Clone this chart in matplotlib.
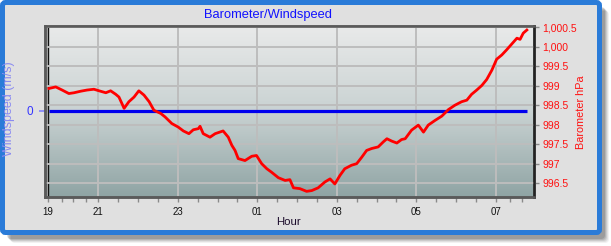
import numpy as np
import matplotlib
matplotlib.use("Agg")
import matplotlib.pyplot as plt
from matplotlib.colors import LinearSegmentedColormap
from matplotlib.patches import FancyBboxPatch
from matplotlib.ticker import FixedLocator, FuncFormatter

# ---------------- data ----------------
# time in hours (values >24 are after midnight)
hours = [19.76, 19.93, 20.09, 20.26, 20.39, 20.56, 20.72, 20.89, 21.02, 21.19,
         21.31, 21.44, 21.52, 21.65, 21.77, 21.90, 22.02, 22.15, 22.28, 22.40,
         22.57, 22.68, 22.85, 23.01, 23.14, 23.28, 23.39, 23.52, 23.56, 23.64,
         23.81, 23.94, 24.14, 24.27, 24.36, 24.44, 24.52, 24.69, 24.86, 24.98,
         25.11, 25.24, 25.36, 25.53, 25.70, 25.82, 25.91, 26.07, 26.24, 26.37,
         26.53, 26.70, 26.83, 26.95, 27.08, 27.20, 27.37, 27.50, 27.63, 27.75,
         27.88, 28.04, 28.17, 28.26, 28.38, 28.51, 28.63, 28.72, 28.88, 29.05,
         29.18, 29.30, 29.47, 29.64, 29.81, 29.97, 30.14, 30.27, 30.39, 30.52,
         30.65, 30.77, 30.90, 31.02, 31.15, 31.27, 31.40, 31.53, 31.61, 31.69,
         31.78]
pressure = [998.93, 998.97, 998.89, 998.80, 998.82, 998.86, 998.89, 998.91, 998.87, 998.82,
            998.87, 998.78, 998.71, 998.42, 998.59, 998.71, 998.87, 998.76, 998.59, 998.37,
            998.29, 998.20, 998.03, 997.94, 997.84, 997.77, 997.87, 997.90, 997.96, 997.77,
            997.68, 997.77, 997.84, 997.68, 997.47, 997.34, 997.13, 997.08, 997.19, 997.21,
            997.00, 996.87, 996.78, 996.64, 996.57, 996.59, 996.38, 996.36, 996.29, 996.31,
            996.38, 996.53, 996.61, 996.48, 996.70, 996.87, 996.96, 997.00, 997.17, 997.34,
            997.39, 997.43, 997.56, 997.64, 997.58, 997.53, 997.62, 997.64, 997.86, 997.99,
            997.81, 997.99, 998.11, 998.22, 998.39, 998.50, 998.59, 998.63, 998.78, 998.89,
            999.01, 999.16, 999.40, 999.68, 999.79, 999.92, 1000.07, 1000.22, 1000.19, 1000.35,
            1000.43]
wind_hours = [19.76, 31.78]
windspeed = [0, 0]

x_tick_pos = [19.74, 21, 23, 25, 27, 29, 31]
x_tick_labels = ["19", "21", "23", "01", "03", "05", "07"]
baro_ticks = [996.5, 997, 997.5, 998, 998.5, 999, 999.5, 1000, 1000.5]

# ---------------- figure ----------------
W, H = 611, 246
fig = plt.figure(figsize=(W / 100, H / 100), dpi=100)
fig.patch.set_facecolor("white")
FONT = ["Liberation Sans", "DejaVu Sans"]

# background decoration in pixel coordinates
bg = fig.add_axes([0, 0, 1, 1], zorder=-10)
bg.set_xlim(0, W)
bg.set_ylim(H, 0)
bg.axis("off")

# soft shadow
for i, a in enumerate([0.05, 0.07, 0.09, 0.11, 0.13]):
    off = 9 - i
    sh = FancyBboxPatch((2 + off, 2 + off), 598, 232, boxstyle="round,pad=0,rounding_size=4",
                        facecolor="black", edgecolor="none", alpha=a)
    bg.add_patch(sh)

frame = FancyBboxPatch((2.5, 2.5), 597, 230, boxstyle="round,pad=0,rounding_size=3",
                       facecolor="#e0e0e0", edgecolor="none")
bg.add_patch(frame)
gx, gy = np.meshgrid(np.linspace(0, 1, 200), np.linspace(0, 1, 100))
grad = 0.55 * gx + 0.45 * gy
cm_bg = LinearSegmentedColormap.from_list("bgc", ["#efefef", "#e2e2e2", "#c3c3c3"])
im = bg.imshow(grad, extent=[2.5, 599.5, 232.5, 2.5], cmap=cm_bg, aspect="auto",
               interpolation="bilinear")
im.set_clip_path(frame)
border = FancyBboxPatch((2.5, 2.5), 597, 230, boxstyle="round,pad=0,rounding_size=3",
                        facecolor="none", edgecolor="#2a7bd8", linewidth=3.6)
bg.add_patch(border)

# ---------------- main axes ----------------
L, R, T, B = 45, 534, 26, 197
ax = fig.add_axes([L / W, 1 - B / H, (R - L) / W, (B - T) / H])
ax.set_facecolor("none")
ax.set_xlim(19.66, 31.96)
ax.set_ylim(-1.006, 0.994)

pg = np.linspace(0, 1, 256).reshape(-1, 1)
cm_plot = LinearSegmentedColormap.from_list("pc", ["#e9eaea", "#c9d2d2", "#8fa4a4"])
ax.imshow(pg, extent=[0, 1, 0, 1], transform=ax.transAxes, cmap=cm_plot,
          aspect="auto", zorder=0, interpolation="bilinear")
ax.set_xlim(19.66, 31.96)
ax.set_ylim(-1.006, 0.994)

ax.set_axisbelow(True)
ax.xaxis.set_major_locator(FixedLocator(x_tick_pos))
ax.set_xticklabels(x_tick_labels, fontsize=7, family=FONT, color="#111111")
minor = [20.08, 20.37, 20.69] + [h for h in np.arange(21.5, 31.0, 0.5) if h % 2 != 1] + [31.36, 31.65]
ax.xaxis.set_minor_locator(FixedLocator(minor))
ax.tick_params(axis="x", which="both", direction="out", length=3.5, width=1,
               color="#8a8a8a", pad=4)
ax.grid(axis="x", which="major", color="#bdbdbd", linewidth=1.4)

ax.set_yticks([0])
ax.set_yticklabels(["0"], fontsize=8.5, family=FONT, color="#3535ff")
ax.tick_params(axis="y", direction="out", length=4.5, width=1.2, color="#8080ff", pad=4)

ax.plot(wind_hours, windspeed, color="#0000ee", linewidth=2.3, zorder=3,
        solid_capstyle="butt")
ax.axvline(x_tick_pos[0], color="#111111", linewidth=1.0, zorder=2)

for side in ["left", "bottom", "top", "right"]:
    ax.spines[side].set_color("#5a5a5a")
    ax.spines[side].set_linewidth(1.8)

ax2 = ax.twinx()
ax2.set_ylim(996.145, 1000.533)
ax2.set_yticks(baro_ticks)


def fmt(v, pos):
    s = f"{v:,.1f}"
    if s.endswith(".0"):
        s = s[:-2]
    return s


ax2.yaxis.set_major_formatter(FuncFormatter(fmt))
ax2.tick_params(axis="y", direction="out", length=3.5, width=1, color="#8a8a8a",
                labelsize=7.5, labelcolor="#ff1010", pad=2.5)
for lab in ax2.get_yticklabels():
    lab.set_family(FONT)
ax2.set_axisbelow(True)
ax2.grid(axis="y", color="#bdbdbd", linewidth=1.4)
ax2.plot(hours, pressure, color="#ff0000", linewidth=2.0, zorder=4)
for side in ["left", "bottom", "top", "right"]:
    ax2.spines[side].set_color("#5a5a5a")
    ax2.spines[side].set_linewidth(1.8)
ax2.spines["right"].set_color("#222222")

# ---------------- texts ----------------
fig.text(268 / W, 1 - 15 / H, "Barometer/Windspeed", ha="center", va="center",
         fontsize=9.3, family=FONT, color="#1212ff")
fig.text(288 / W, 1 - 222 / H, "Hour", ha="center", va="center",
         fontsize=8.2, family=FONT, color="#1a0a2a")
fig.text(581 / W, 1 - 112 / H, "Barometer hPa", ha="center", va="center",
         rotation=90, fontsize=7.8, family=FONT, color="#ff1010")
fig.text(9 / W, 1 - 109 / H, "Windspeed (m/s)", ha="center", va="center",
         rotation=90, fontsize=9, family=FONT, color="#8a8af0")

fig.savefig("out.png", dpi=100)
